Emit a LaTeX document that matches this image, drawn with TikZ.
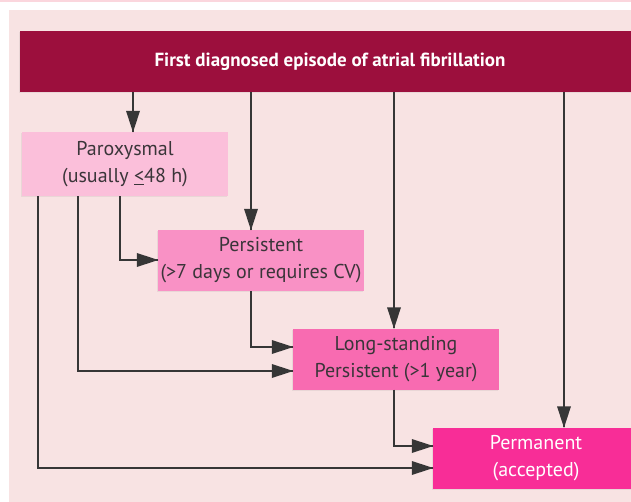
\documentclass[tikz,border=0pt]{standalone}
\usepackage{fontspec}
\setmainfont{PT Sans}
\usetikzlibrary{arrows.meta,shadows,decorations.markings}
\definecolor{bgpink}{HTML}{F8E3E3}
\definecolor{strip}{HTML}{FBD6DD}
\definecolor{hdr}{HTML}{9C0F3D}
\definecolor{c1}{HTML}{FBBFDA}
\definecolor{c2}{HTML}{F991C5}
\definecolor{c3}{HTML}{F86BB1}
\definecolor{c4}{HTML}{F82D97}
\definecolor{txt}{HTML}{3A3539}
\definecolor{ln}{HTML}{363636}
\tikzset{
  box/.style={rectangle, inner sep=0pt, minimum width=206pt, minimum height=62pt,
    align=center, text=txt, font=\fontsize{20}{27}\selectfont,
    drop shadow={opacity=0.12, shadow xshift=-1.5pt, shadow yshift=-1.5pt}},
  arr/.style={draw=ln, line width=1.4pt, postaction={decorate},
    decoration={markings, mark=at position 1 with
      {\fill[ln] (0.5pt,0pt) -- (-21pt,7pt) -- (-21pt,-7pt) -- cycle;}}},
}
\begin{document}
\begin{tikzpicture}[x=1pt,y=-1pt]
\useasboundingbox (0,0) rectangle (631,502);
\fill[white] (0,0) rectangle (631,502);
\fill[strip] (0,0) rectangle (631,2);
\fill[bgpink] (9,10) rectangle (640,510);
\node[box, fill=hdr, text=white, minimum width=620pt, minimum height=61pt,
  font=\fontsize{19}{24}\selectfont\bfseries] (hdr) at (330,61.5) {First diagnosed episode of atrial fibrillation};
\node[box, fill=c1, minimum height=64pt] (par) at (125,164) {Paroxysmal\\(usually \underline{<}48 h)};
\node[box, fill=c2, minimum height=61pt] (per) at (261,260.5) {Persistent\\(>7 days or requires CV)};
\node[box, fill=c3, minimum height=61pt] (lsp) at (396,359) {Long-standing\\Persistent (>1 year)};
\node[box, fill=c4, minimum height=61pt, text=white] (pmt) at (536,458) {Permanent\\(accepted)};
% x positions
\coordinate (xa) at (133,0);
\coordinate (xb) at (251,0);
\coordinate (xc) at (394,0);
\coordinate (xd) at (564,0);
\coordinate (xp1) at (38,0);
\coordinate (xp2) at (78,0);
\coordinate (xp3) at (120,0);
% y positions
\coordinate (y1) at (0,260);
\coordinate (y2) at (0,371);
\coordinate (y3) at (0,468);
\coordinate (y4) at (0,347);
\coordinate (y5) at (0,446);
% from header
\draw[arr] (hdr.south -| xa) -- (par.north -| xa);
\draw[arr] (hdr.south -| xb) -- (per.north -| xb);
\draw[arr] (hdr.south -| xc) -- (lsp.north -| xc);
\draw[arr] (hdr.south -| xd) -- (pmt.north -| xd);
% from paroxysmal
\draw[arr] (par.south -| xp3) |- (per.west |- y1);
\draw[arr] (par.south -| xp2) |- (lsp.west |- y2);
\draw[arr] (par.south -| xp1) |- (pmt.west |- y3);
% from persistent
\draw[arr] (per.south -| xb) |- (lsp.west |- y4);
% from long-standing
\draw[arr] (lsp.south -| xc) |- (pmt.west |- y5);
\end{tikzpicture}
\end{document}
